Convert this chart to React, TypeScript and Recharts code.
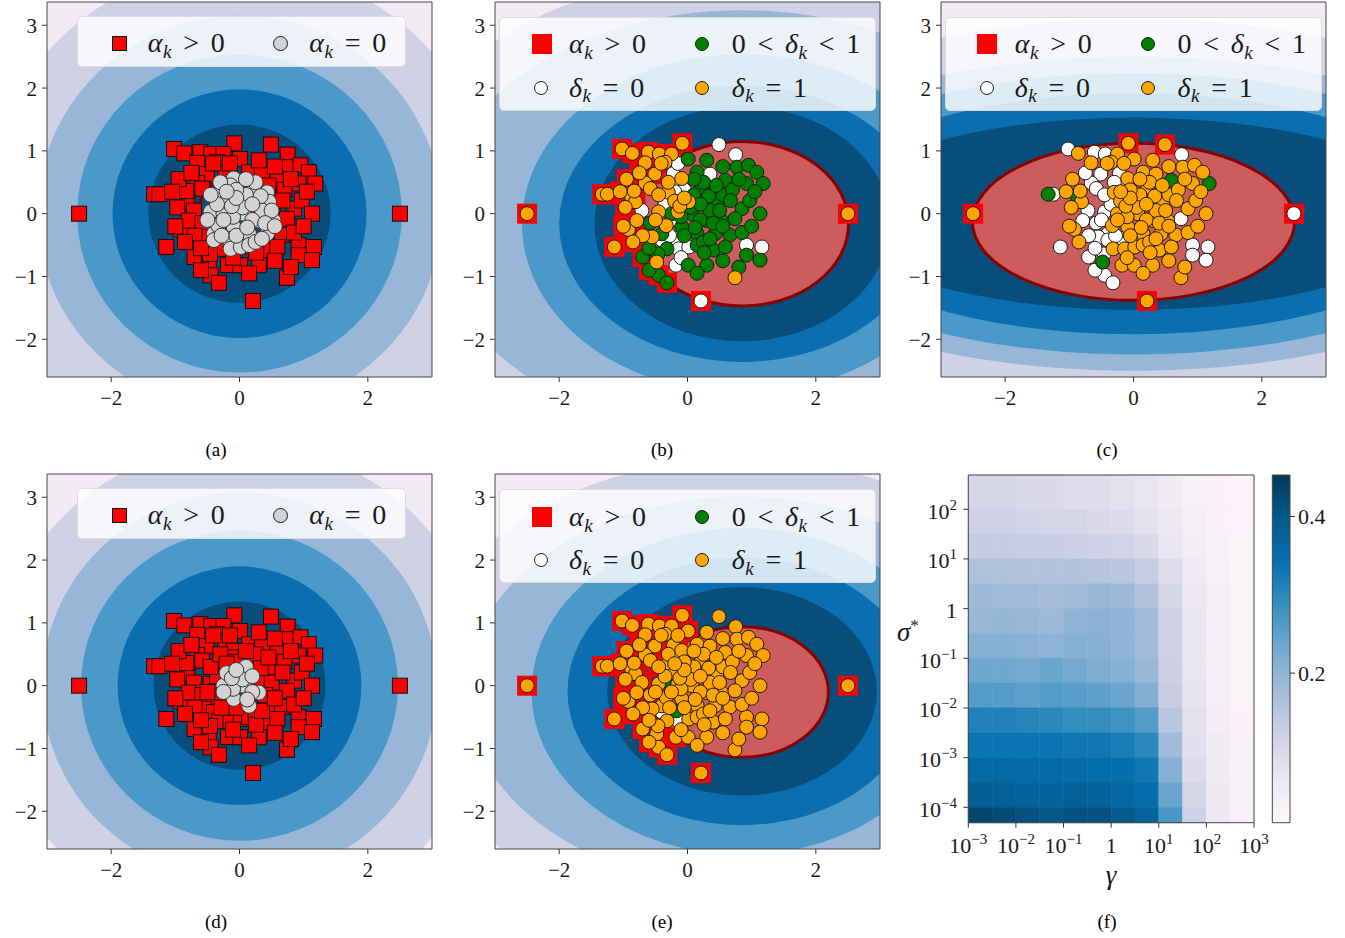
import React from 'react';
import { ScatterChart, Scatter, XAxis, YAxis, ReferenceArea } from 'recharts';

const FONT = "'Liberation Serif', 'Times New Roman', serif";
const INK = '#1a1a1a';

// ---------- scatter panels (a)-(e) ----------
const xTicks = [-2, 0, 2];
const yTicks = [-2, -1, 0, 1, 2, 3];
const xDomain: [number, number] = [-3, 3];
const yDomain: [number, number] = [-2.6, 3.37];

// [x, y, class codes for panels a b c d e]
// a,d: s = alpha>0 (red square), c = alpha=0 (grey circle)
// b,c,e: o/g/w = delta 1 / between / 0 ; uppercase = also alpha>0 (red square)
const points: [number, number, string][] = [
  [-2.5, 0, 'sOOsO'], [2.5, 0, 'sOWsO'], [0.21, -1.39, 'sWOsO'], [-0.08, 1.12, 'sOOsO'],
  [0.49, 1.1, 'swOso'], [-1.02, 1.03, 'sOwsO'], [-0.86, 0.96, 'sOosO'], [-0.61, 0.98, 'sOwsO'],
  [-0.44, 0.95, 'sOwsO'], [-0.25, 0.95, 'sOosO'], [0.75, 0.94, 'swwso'], [-0.66, 0.81, 'sOosO'],
  [-0.35, 0.82, 'sOosO'], [0.01, 0.87, 'sgosO'], [0.15, 0.66, 'sgoso'], [0.77, 0.74, 'sgoso'],
  [0.95, 0.77, 'sgoso'], [1.08, 0.66, 'sgoso'], [0.35, 0.63, 'swoso'], [-0.51, 0.63, 'sOwsO'],
  [-0.22, 0.64, 'swwsO'], [-0.09, 0.56, 'cooso'], [0.59, 0.53, 'sggso'], [0.92, 0.48, 'sgoso'],
  [1.18, 0.48, 'sggso'], [-0.66, 0.49, 'sOwsO'], [-0.58, 0.4, 'sowsO'], [-0.14, 0.45, 'cwwsw'],
  [0.22, 0.42, 'cgoso'], [-0.3, 0.34, 'cooso'], [0.43, 0.34, 'cgoso'], [-1.33, 0.31, 'sOgsO'],
  [-1.25, 0.31, 'sOwsO'], [-0.87, 0.26, 'sOgsO'], [-0.81, 0.19, 'sOosO'], [0.02, 0.19, 'cooco'],
  [0.29, 0.21, 'cgoso'], [0.46, 0.19, 'cgoso'], [0.85, 0.08, 'sgoso'], [0.97, 0.21, 'sgoso'],
  [-0.97, 0.1, 'sOosO'], [-0.45, 0.03, 'cowso'], [-0.15, 0.03, 'cooco'], [-0.71, 0.05, 'swwsO'],
  [-0.25, 0.0, 'cgocg'], [0.07, 0.0, 'cgoco'], [0.3, -0.11, 'cgoco'], [0.53, -0.11, 'cgoso'],
  [0.74, -0.08, 'sgwso'], [1.13, 0.0, 'sgoso'], [-0.92, -0.25, 'sOosO'], [-0.79, -0.11, 'sOwsO'],
  [-0.58, -0.15, 'sgwsO'], [-0.4, -0.32, 'cgwso'], [-0.33, -0.19, 'cooso'], [-0.09, -0.21, 'cgoco'],
  [0.15, -0.32, 'cgoco'], [0.43, -0.32, 'cgoso'], [0.66, -0.34, 'sgoso'], [-0.55, -0.37, 'sowsO'],
  [-0.4, -0.42, 'cwwsw'], [-0.17, -0.4, 'cwwsg'], [-1.14, -0.53, 'sOwsO'], [-0.32, -0.56, 'sgoso'],
  [-0.14, -0.56, 'cwosw'], [0.02, -0.53, 'cwoso'], [0.15, -0.5, 'cgoso'], [0.4, -0.58, 'sgoso'],
  [0.59, -0.53, 'sgoso'], [0.92, -0.5, 'swwso'], [1.16, -0.53, 'swwso'], [0.92, -0.66, 'sgwso'],
  [1.13, -0.74, 'sgwso'], [-0.7, -0.69, 'sGwsO'], [-0.48, -0.77, 'sogsO'], [-0.18, -0.82, 'swosO'],
  [0.01, -0.82, 'sgoso'], [0.3, -0.82, 'sgoso'], [0.74, -1.02, 'sooso'], [-0.45, -0.98, 'sGwsO'],
  [-0.32, -1.1, 'sGwsO'], [0.1, 0.3, 'cgoco'], [-0.05, 0.38, 'cwoso'], [0.35, 0.05, 'cgoso'],
  [0.2, -0.1, 'cgoco'], [-0.1, -0.05, 'cgoco'], [0.05, 0.1, 'cgoco'], [-0.2, 0.2, 'cooco'],
  [-0.35, 0.15, 'cwwso'], [0.25, 0.5, 'cgoso'], [0.5, 0.05, 'cgoso'], [0.4, -0.15, 'cgoso'],
  [-0.05, -0.35, 'cgoso'], [0.25, -0.45, 'cgoso'], [-0.28, -0.35, 'cwwso'], [0.1, 0.55, 'cgoso'],
  [-0.45, 0.3, 'cowsO'], [0.55, 0.3, 'sgoso'], [-0.12, 0.12, 'cooco'], [0.12, -0.22, 'cgoco'],
  [0.33, 0.28, 'cgoso'], [-0.41, 0.8, 'sOosO'], [0.7, 0.38, 'sgoso'], [0.67, 0.21, 'sgoso'],
  [-0.83, 0.36, 'sOosO'], [-0.46, -0.64, 'sgwsO'], [0.26, -0.62, 'sgoso'],
  [-0.95, 0.55, 'sOosO'], [-1.05, 0.35, 'sOosO'], [-0.75, 0.65, 'sOwsO'], [-0.7, -0.35, 'sowsO'],
  [-0.85, -0.45, 'sOosO'], [-1.0, -0.2, 'sOosO'], [-0.6, -0.55, 'sgwsO'], [0.85, -0.3, 'sgoso'],
  [1.0, -0.2, 'sgoso'], [0.8, 0.55, 'sgoso'], [1.05, 0.35, 'sgoso'], [0.55, 0.75, 'sgoso'],
  [0.3, 0.85, 'sgoso'], [-0.15, 0.8, 'swosO'], [0.55, -0.75, 'sgoso'], [0.8, -0.85, 'sgoso'],
  [-0.1, -0.7, 'swoso'], [0.15, -0.95, 'sgoso'], [-0.6, -0.9, 'sGwsO'], [-0.3, 0.5, 'cowsO'],
  [0.45, 0.45, 'sgoso'], [-0.5, -0.1, 'cowsO'], [0.2, 0.15, 'cgoco'], [-0.05, 0.25, 'cooco'],
  [0.35, -0.4, 'cgoso'], [-0.25, -0.1, 'cwoco'], [0.55, -0.2, 'cgoso'], [-0.2, 0.35, 'cwoso'],
];

// contour levels: [cx, cy, rx, ry], outer to inner
const contourBg = '#f1ecf4';
const contourColors = ['#d1d1e6', '#98b7d8', '#4b99c9', '#0b6eb0', '#074e7c'];
const levelsA = [[0, 0, 3.95, 3.95], [0, 0, 3.15, 3.15], [0, 0, 2.53, 2.53], [0, 0, 1.98, 1.98], [0, 0, 1.42, 1.42]];
const levelsB = [[0.85, -0.16, 5.6, 4.0], [0.85, -0.16, 4.8, 3.4], [0.85, -0.16, 3.43, 2.7], [0.85, -0.16, 2.85, 2.2], [0.85, -0.16, 2.3, 1.87]];
const levelsC = [[0, 0, 7.0, 3.1], [0, 0, 6.3, 2.5], [0, 0, 5.67, 2.24], [0, 0, 5.0, 1.92], [0, 0, 4.66, 1.53]];
const levelsD = [[0, 0, 3.85, 3.85], [0, 0, 3.08, 3.08], [0, 0, 2.47, 2.47], [0, 0, 1.9, 1.9], [0, 0, 1.34, 1.34]];
const levelsE = [[0.85, -0.09, 5.1, 3.7], [0.85, -0.09, 4.3, 3.1], [0.85, -0.09, 3.28, 2.6], [0.85, -0.09, 2.72, 2.13], [0.85, -0.09, 2.1, 1.66]];

// decision boundaries: [cx, cy, rx, ry]
const boundA = [0, 0, 0.64, 0.64];
const boundB = [0.85, -0.16, 1.66, 1.31];
const boundC = [0, -0.13, 2.51, 1.25];
const boundD = [-0.03, -0.02, 0.35, 0.35];
const boundE = [0.845, -0.1, 1.35, 1.04];

// ---------- heatmap (f) ----------
const gammaEdges = [-3, -2.5, -2, -1.5, -1, -0.5, 0, 0.5, 1, 1.5, 2, 2.5, 3];
const sigmaEdges = [2.69, 2, 1.5, 1, 0.5, 0, -0.5, -1, -1.5, -2, -2.5, -3, -3.5, -4, -4.31];
const heatRows = [
  [0.11, 0.11, 0.1, 0.1, 0.09, 0.09, 0.08, 0.07, 0.05, 0.035, 0.025, 0.018],
  [0.12, 0.12, 0.115, 0.11, 0.11, 0.1, 0.095, 0.08, 0.06, 0.04, 0.025, 0.018],
  [0.135, 0.135, 0.13, 0.13, 0.125, 0.12, 0.115, 0.1, 0.07, 0.045, 0.03, 0.02],
  [0.165, 0.165, 0.16, 0.16, 0.16, 0.155, 0.15, 0.13, 0.09, 0.055, 0.035, 0.02],
  [0.185, 0.18, 0.18, 0.175, 0.18, 0.19, 0.185, 0.16, 0.11, 0.065, 0.04, 0.02],
  [0.19, 0.195, 0.19, 0.185, 0.2, 0.205, 0.2, 0.18, 0.12, 0.07, 0.04, 0.02],
  [0.21, 0.21, 0.205, 0.2, 0.21, 0.21, 0.2, 0.18, 0.12, 0.07, 0.04, 0.02],
  [0.235, 0.235, 0.23, 0.24, 0.23, 0.22, 0.21, 0.19, 0.125, 0.07, 0.04, 0.02],
  [0.26, 0.26, 0.25, 0.26, 0.255, 0.25, 0.24, 0.215, 0.13, 0.075, 0.04, 0.02],
  [0.31, 0.31, 0.305, 0.3, 0.29, 0.29, 0.28, 0.26, 0.15, 0.08, 0.045, 0.025],
  [0.335, 0.335, 0.335, 0.335, 0.33, 0.33, 0.32, 0.3, 0.18, 0.085, 0.05, 0.03],
  [0.36, 0.36, 0.355, 0.355, 0.355, 0.35, 0.345, 0.33, 0.21, 0.095, 0.055, 0.03],
  [0.385, 0.38, 0.375, 0.375, 0.38, 0.375, 0.365, 0.35, 0.24, 0.11, 0.06, 0.035],
  [0.43, 0.42, 0.41, 0.4, 0.41, 0.41, 0.395, 0.37, 0.27, 0.12, 0.06, 0.035],
];
const heatTicksX = [-3, -2, -1, 0, 1, 2, 3];
const heatTicksY = [-4, -3, -2, -1, 0, 1, 2];
const cbarDomain: [number, number] = [0.009, 0.453];
const cbarTicks = [0.2, 0.4];

const pubu = ['#fff7fb', '#ece7f2', '#d0d1e6', '#a6bddb', '#74a9cf', '#3690c0', '#0570b0', '#045a8d', '#023858'];

function hexToRgb(h: string) {
  return [parseInt(h.slice(1, 3), 16), parseInt(h.slice(3, 5), 16), parseInt(h.slice(5, 7), 16)];
}
function pubuColor(v: number) {
  let t = (v - cbarDomain[0]) / (cbarDomain[1] - cbarDomain[0]);
  t = Math.max(0, Math.min(1, t));
  const s = t * (pubu.length - 1);
  const i = Math.min(pubu.length - 2, Math.floor(s));
  const f = s - i;
  const a = hexToRgb(pubu[i]);
  const b = hexToRgb(pubu[i + 1]);
  const c = a.map((av, k) => Math.round(av + (b[k] - av) * f));
  return `rgb(${c[0]},${c[1]},${c[2]})`;
}

const minusFmt = (v: number) => (v < 0 ? `\u2212${Math.abs(v)}` : `${v}`);
const tickStyle = { fontFamily: FONT, fontSize: 21, fill: INK, style: { fontFamily: FONT } };

const ellipseShape = (fill: string, stroke: string, sw: number) => (p: any) => {
  const { x, y, width, height, clipPath } = p;
  return (
    <ellipse
      cx={x + width / 2}
      cy={y + height / 2}
      rx={Math.abs(width) / 2}
      ry={Math.abs(height) / 2}
      fill={fill}
      stroke={stroke}
      strokeWidth={sw}
      clipPath={clipPath}
    />
  );
};

const squareShape = (size: number, edge: boolean) => (p: any) => (
  <rect
    x={p.cx - size / 2}
    y={p.cy - size / 2}
    width={size}
    height={size}
    fill="#ff0000"
    stroke={edge ? '#111' : 'none'}
    strokeWidth={1}
  />
);
const dotShape = (fill: string, r: number, edge = '#1a1a1a') => (p: any) => (
  <circle cx={p.cx} cy={p.cy} r={r} fill={fill} stroke={edge} strokeWidth={1} />
);

const pick = (idx: number, codes: string) =>
  points.filter((p) => codes.includes(p[2][idx])).map((p) => ({ x: p[0], y: p[1] }));

// ---------- math text helpers ----------
const Sub = ({ children }: any) => (
  <span style={{ fontSize: '0.68em', fontStyle: 'italic', position: 'relative', top: '0.3em', marginLeft: '0.03em' }}>
    {children}
  </span>
);
const Rel = ({ children }: any) => <span style={{ margin: '0 0.42em' }}>{children}</span>;
const AlphaK = () => (
  <>
    <i>α</i>
    <Sub>k</Sub>
  </>
);
const DeltaK = () => (
  <>
    <i>δ</i>
    <Sub>k</Sub>
  </>
);

function LegendText({ x, y, children }: any) {
  return (
    <div
      style={{
        position: 'absolute',
        left: x,
        top: y - 18,
        height: 36,
        lineHeight: '36px',
        fontFamily: FONT,
        fontSize: 28,
        color: INK,
        whiteSpace: 'nowrap',
      }}
    >
      {children}
    </div>
  );
}
function Marker({ x, y, kind }: any) {
  let st: any = { position: 'absolute', boxSizing: 'border-box' };
  if (kind === 'sqEdge') st = { ...st, left: x - 7.5, top: y - 7.5, width: 15, height: 15, background: '#ff0000', border: '1px solid #111' };
  else if (kind === 'sq') st = { ...st, left: x - 10, top: y - 10, width: 20, height: 20, background: '#ff0000' };
  else {
    const fill = kind === 'grey' ? '#d3d3d3' : kind === 'green' ? '#008000' : kind === 'white' ? '#ffffff' : '#ffa500';
    const d = kind === 'grey' ? 15 : 14;
    st = { ...st, left: x - d / 2, top: y - d / 2, width: d, height: d, borderRadius: '50%', background: fill, border: '1px solid #1a1a1a' };
  }
  return <div style={st} />;
}

function LegendBox({ left, top, width, height, children }: any) {
  return (
    <div
      style={{
        position: 'absolute',
        left,
        top,
        width,
        height,
        boxSizing: 'border-box',
        background: 'rgba(255,255,255,0.82)',
        border: '1px solid #dcdcdc',
        borderRadius: 5,
      }}
    >
      {children}
    </div>
  );
}

function AlphaLegend({ left, top }: any) {
  return (
    <LegendBox left={left} top={top} width={329} height={51}>
      <Marker x={41.6} y={26.8} kind="sqEdge" />
      <LegendText x={70} y={26.8}>
        <AlphaK />
        <Rel>&gt;</Rel>0
      </LegendText>
      <Marker x={202.8} y={26.8} kind="grey" />
      <LegendText x={231.6} y={26.8}>
        <AlphaK />
        <Rel>=</Rel>0
      </LegendText>
    </LegendBox>
  );
}
function DeltaLegend({ left, top }: any) {
  return (
    <LegendBox left={left} top={top} width={377} height={94}>
      <Marker x={41.7} y={26.6} kind="sq" />
      <LegendText x={69} y={26.6}>
        <AlphaK />
        <Rel>&gt;</Rel>0
      </LegendText>
      <Marker x={202} y={26.6} kind="green" />
      <LegendText x={231.7} y={26.6}>
        0<Rel>&lt;</Rel>
        <DeltaK />
        <Rel>&lt;</Rel>1
      </LegendText>
      <Marker x={41} y={70} kind="white" />
      <LegendText x={69} y={70}>
        <DeltaK />
        <Rel>=</Rel>0
      </LegendText>
      <Marker x={202} y={70} kind="orange" />
      <LegendText x={231.7} y={70}>
        <DeltaK />
        <Rel>=</Rel>1
      </LegendText>
    </LegendBox>
  );
}

const CH_W = 440;
const CH_H = 420;
const MARGIN = { top: 2, right: 8, bottom: 0, left: 7 };

function Panel({ left, top, levels, bound, filled, idx, mode }: any) {
  const xa = (show: boolean) => (
    <XAxis
      type="number"
      dataKey="x"
      domain={xDomain}
      ticks={xTicks}
      allowDataOverflow
      height={43}
      interval={0}
      tickSize={5}
      tickMargin={8}
      axisLine={false}
      tickLine={show ? { stroke: '#333' } : false}
      tick={show ? tickStyle : false}
      tickFormatter={minusFmt}
    />
  );
  const ya = (show: boolean) => (
    <YAxis
      type="number"
      dataKey="y"
      domain={yDomain}
      ticks={yTicks}
      allowDataOverflow
      width={40}
      interval={0}
      tickSize={5}
      tickMargin={5}
      axisLine={false}
      tickLine={show ? { stroke: '#333' } : false}
      tick={show ? tickStyle : false}
      tickFormatter={minusFmt}
    />
  );
  const [bx, by, brx, bry] = bound;
  let series: any[] = [];
  if (mode === 'alpha') {
    series = [
      <Scatter key="sq" data={pick(idx, 's')} shape={squareShape(15, true)} isAnimationActive={false} />,
      <Scatter key="gr" data={pick(idx, 'c')} shape={dotShape('#d3d3d3', 7.5, '#333')} isAnimationActive={false} />,
    ];
  } else {
    series = [
      <Scatter key="sq" data={pick(idx, 'OGW')} shape={squareShape(20, false)} isAnimationActive={false} />,
      <Scatter key="w" data={pick(idx, 'wW')} shape={dotShape('#ffffff', 7)} isAnimationActive={false} />,
      <Scatter key="g" data={pick(idx, 'gG')} shape={dotShape('#008000', 7)} isAnimationActive={false} />,
      <Scatter key="o" data={pick(idx, 'oO')} shape={dotShape('#ffa500', 7)} isAnimationActive={false} />,
    ];
  }
  return (
    <>
      <div style={{ position: 'absolute', left, top }}>
        <ScatterChart width={CH_W} height={CH_H} margin={MARGIN}>
          {xa(false)}
          {ya(false)}
          <Scatter data={[]} isAnimationActive={false} />
          <ReferenceArea
            x1={xDomain[0]}
            x2={xDomain[1]}
            y1={yDomain[0]}
            y2={yDomain[1]}
            fill={contourBg}
            fillOpacity={1}
            stroke="none"
            ifOverflow="hidden"
          />
          {levels.map((l: number[], i: number) => (
            <ReferenceArea
              key={i}
              x1={l[0] - l[2]}
              x2={l[0] + l[2]}
              y1={l[1] - l[3]}
              y2={l[1] + l[3]}
              ifOverflow="hidden"
              shape={ellipseShape(contourColors[i], 'none', 0)}
            />
          ))}
          {filled && (
            <ReferenceArea
              x1={bx - brx}
              x2={bx + brx}
              y1={by - bry}
              y2={by + bry}
              ifOverflow="hidden"
              shape={ellipseShape('#cd5c5c', 'none', 0)}
            />
          )}
        </ScatterChart>
      </div>
      <div style={{ position: 'absolute', left, top }}>
        <ScatterChart width={CH_W} height={CH_H} margin={MARGIN}>
          {xa(true)}
          {ya(true)}
          {series}
          <ReferenceArea
            x1={bx - brx}
            x2={bx + brx}
            y1={by - bry}
            y2={by + bry}
            ifOverflow="hidden"
            shape={ellipseShape('none', '#8b0000', 3)}
          />
          <ReferenceArea
            x1={xDomain[0]}
            x2={xDomain[1]}
            y1={yDomain[0]}
            y2={yDomain[1]}
            fill="none"
            stroke="#444"
            strokeWidth={1}
            ifOverflow="visible"
          />
        </ScatterChart>
      </div>
    </>
  );
}

const supText = (v: number) => (v < 0 ? `\u2212${Math.abs(v)}` : `${v}`);
const LogTickX = (p: any) => {
  const v = p.payload.value;
  const y = p.y + 23.3;
  return (
    <text x={p.x} y={y} textAnchor="middle" fontFamily={FONT} fontSize={22} fill={INK} style={{ fontFamily: FONT }}>
      {v === 0 ? '1' : (
        <>
          10
          <tspan dy={-9} fontSize={15}>
            {supText(v)}
          </tspan>
        </>
      )}
    </text>
  );
};
const LogTickY = (p: any) => {
  const v = p.payload.value;
  const y = p.y + 9.5;
  return (
    <text x={p.x - 4.3} y={y} textAnchor="end" fontFamily={FONT} fontSize={22} fill={INK} style={{ fontFamily: FONT }}>
      {v === 0 ? '1' : (
        <>
          10
          <tspan dy={-9} fontSize={15}>
            {supText(v)}
          </tspan>
        </>
      )}
    </text>
  );
};

function HeatPanel() {
  const cells: any[] = [];
  heatRows.forEach((row, ri) =>
    row.forEach((v, ci) => {
      const col = pubuColor(v);
      cells.push(
        <ReferenceArea
          key={`${ri}-${ci}`}
          x1={gammaEdges[ci]}
          x2={gammaEdges[ci + 1]}
          y1={sigmaEdges[ri + 1]}
          y2={sigmaEdges[ri]}
          fill={col}
          fillOpacity={1}
          stroke={col}
          strokeWidth={0.6}
          ifOverflow="visible"
        />
      );
    })
  );
  return (
    <>
      <div style={{ position: 'absolute', left: 880, top: 470 }}>
        <ScatterChart width={415} height={430} margin={{ top: 5, right: 41, bottom: 0, left: 0 }}>
          <XAxis
            type="number"
            dataKey="x"
            domain={[-3, 3]}
            ticks={heatTicksX}
            allowDataOverflow
            interval={0}
            height={77.3}
            tickSize={5}
            axisLine={false}
            tickLine={{ stroke: '#333' }}
            tick={(p: any) => <LogTickX {...p} />}
          />
          <YAxis
            type="number"
            dataKey="y"
            domain={[sigmaEdges[sigmaEdges.length - 1], sigmaEdges[0]]}
            ticks={heatTicksY}
            allowDataOverflow
            interval={0}
            width={88.3}
            tickSize={5}
            axisLine={false}
            tickLine={{ stroke: '#333' }}
            tick={(p: any) => <LogTickY {...p} />}
          />
          <Scatter data={[]} isAnimationActive={false} />
          {cells}
          <ReferenceArea
            x1={-3}
            x2={3}
            y1={sigmaEdges[sigmaEdges.length - 1]}
            y2={sigmaEdges[0]}
            fill="none"
            stroke="#444"
            strokeWidth={1}
            ifOverflow="visible"
          />
        </ScatterChart>
      </div>
      <div style={{ position: 'absolute', left: 1260, top: 470 }}>
        <ScatterChart width={85} height={360} margin={{ top: 5, right: 0, bottom: 7.3, left: 12.3 }}>
          <defs>
            <linearGradient id="pubuGrad" x1="0" y1="1" x2="0" y2="0">
              {pubu.map((c, i) => (
                <stop key={i} offset={i / (pubu.length - 1)} stopColor={c} />
              ))}
            </linearGradient>
          </defs>
          <XAxis type="number" dataKey="x" domain={[0, 1]} hide allowDataOverflow />
          <YAxis
            type="number"
            dataKey="y"
            orientation="right"
            domain={cbarDomain}
            ticks={cbarTicks}
            allowDataOverflow
            interval={0}
            width={55}
            tickSize={5}
            tickMargin={3}
            axisLine={false}
            tickLine={{ stroke: '#333' }}
            tick={{ ...tickStyle, fontSize: 22 }}
            tickFormatter={(v: number) => v.toFixed(1)}
          />
          <Scatter data={[]} isAnimationActive={false} />
          <ReferenceArea
            x1={0}
            x2={1}
            y1={cbarDomain[0]}
            y2={cbarDomain[1]}
            fill="url(#pubuGrad)"
            fillOpacity={1}
            stroke="#444"
            strokeWidth={1}
            ifOverflow="visible"
          />
        </ScatterChart>
      </div>
      <div
        style={{
          position: 'absolute',
          left: 1095,
          top: 860,
          width: 32,
          textAlign: 'center',
          fontFamily: FONT,
          fontSize: 27,
          fontStyle: 'italic',
          color: INK,
          lineHeight: '30px',
        }}
      >
        γ
      </div>
      <div
        style={{
          position: 'absolute',
          left: 897,
          top: 617,
          fontFamily: FONT,
          fontSize: 27,
          color: INK,
          lineHeight: '30px',
          whiteSpace: 'nowrap',
        }}
      >
        <i>σ</i>
        <span style={{ fontSize: '0.65em', position: 'relative', top: '-0.55em' }}>*</span>
      </div>
    </>
  );
}

function Caption({ x, y, text }: any) {
  return (
    <div
      style={{
        position: 'absolute',
        left: x - 30,
        top: y - 12,
        width: 60,
        textAlign: 'center',
        fontFamily: FONT,
        fontSize: 19,
        lineHeight: '24px',
        color: '#000',
      }}
    >
      {text}
    </div>
  );
}

export default function App() {
  return (
    <div style={{ position: 'absolute', left: 0, top: 0, width: 1345, height: 938, background: '#fff', overflow: 'hidden' }}>
      <Panel left={0} top={0} levels={levelsA} bound={boundA} filled={false} idx={0} mode="alpha" />
      <Panel left={447.7} top={0} levels={levelsB} bound={boundB} filled idx={1} mode="delta" />
      <Panel left={893.7} top={0} levels={levelsC} bound={boundC} filled idx={2} mode="delta" />
      <Panel left={0} top={472} levels={levelsD} bound={boundD} filled={false} idx={3} mode="alpha" />
      <Panel left={447.7} top={472} levels={levelsE} bound={boundE} filled idx={4} mode="delta" />
      <HeatPanel />
      <AlphaLegend left={76.7} top={15.7} />
      <DeltaLegend left={499} top={16.7} />
      <DeltaLegend left={944.7} top={16.5} />
      <AlphaLegend left={76.7} top={487.7} />
      <DeltaLegend left={499} top={489.3} />
      <Caption x={216} y={450} text="(a)" />
      <Caption x={662} y={450} text="(b)" />
      <Caption x={1107} y={450} text="(c)" />
      <Caption x={216} y={922} text="(d)" />
      <Caption x={662} y={922} text="(e)" />
      <Caption x={1107} y={922} text="(f)" />
    </div>
  );
}
